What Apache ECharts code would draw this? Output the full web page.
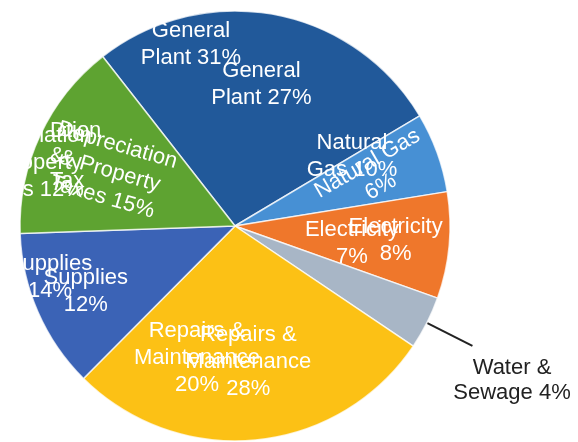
<!DOCTYPE html>
<html>
<head>
<meta charset="utf-8">
<script src="https://cdn.jsdelivr.net/npm/echarts@6/dist/echarts.min.js"></script>
<style>
  html, body { margin: 0; padding: 0; background: #fff; }
  #chart { width: 578px; height: 442px; }
</style>
</head>
<body>
<div id="chart"></div>
<script>
// slices of the pie (clockwise from the upper-left edge)
const categories = ['General Plant', 'Natural Gas', 'Electricity', 'Water & Sewage', 'Repairs & Maintenance', 'Supplies', 'Depreciation & Property Taxes']
const shares = [27, 6, 8, 4, 28, 12, 15]
const sliceLabels = ['General\nPlant', 'Natural Gas\n', 'Electricity\n', 'Water &\nSewage', 'Repairs &\nMaintenance\n', 'Supplies\n', 'Depreciation\n& Property\nTaxes']
const colors = ['#21599a', '#4790d4', '#ef772b', '#a8b6c6', '#fcc115', '#3b63b6', '#5ea331']

// second set of labels laid over the pie
const overlayLabels = ['General\nPlant', 'Natural\nGas', 'Electricity\n', 'Repairs &\nMaintenance\n', 'Supplies\n', 'Depreciation\n& Property\nTaxes']
const overlayShares = [31, 10, 7, 20, 14, 12]

const withPct = (t, v) => (t.endsWith('\n') ? t : t + ' ') + v + '%'

const FONT = '"Liberation Sans", Arial, sans-serif'
const center = [235, 226]
const startAngle = 128
// how far out each inside label sits, relative to the label ring
const labelPull = [0.97, 1.0, 1.09, 1, 0.92, 1.1, 0.92]

const chart = echarts.init(document.getElementById('chart'))

const textEl = (text, x, y, fill, align, vAlign, lh) => ({
  type: 'text',
  z: 100,
  silent: true,
  style: {
    text, x, y, fill,
    font: '22px ' + FONT,
    lineHeight: lh,
    align: align,
    verticalAlign: vAlign,
  },
})

const overlayPos = [[191, 44], [352, 156], [352, 243], [197, 358], [50, 277], [30, 163]]
const graphics = overlayLabels.map((t, i) =>
  textEl(withPct(t, overlayShares[i]), overlayPos[i][0], overlayPos[i][1], '#fff', 'center', 'middle', 27))
graphics.push(textEl('Dtion\n&\nTax', 50, 118, '#fff', 'left', 'top', 25))
// outside label of the small grey slice
graphics.push(textEl(withPct(sliceLabels[3], shares[3]), 512, 380, '#222', 'center', 'middle', 25))

chart.setOption({
  backgroundColor: '#fff',
  animation: false,
  graphic: graphics,
  series: [
    {
      // the slices
      type: 'pie',
      center: center,
      radius: 215,
      startAngle: startAngle,
      clockwise: true,
      silent: true,
      avoidLabelOverlap: false,
      itemStyle: { borderColor: 'rgba(255,255,255,0.75)', borderWidth: 1.5 },
      label: { show: false },
      labelLine: { show: false },
      data: categories.map((c, i) => ({
        name: c,
        value: shares[i],
        itemStyle: { color: colors[i] },
        label: i === 3 ? { show: true, position: 'outside', formatter: ' ', fontSize: 12 } : { show: false },
        labelLine: i === 3 ? { show: true, length: 51, length2: 0, lineStyle: { color: '#222', width: 2 } } : { show: false },
      })),
    },
    {
      // labels of the slices
      type: 'pie',
      center: center,
      radius: [0, 290],
      startAngle: startAngle,
      clockwise: true,
      silent: true,
      avoidLabelOverlap: false,
      itemStyle: { color: 'rgba(0,0,0,0)' },
      labelLine: { show: false },
      label: {
        show: true,
        position: 'inside',
        color: '#fff',
        fontFamily: FONT,
        fontSize: 22,
        lineHeight: 27,
        align: 'center',
        overflow: 'none',
      },
      labelLayout: p => {
        const r = p.labelRect
        const k = labelPull[p.dataIndex] - 1
        return {
          dx: (r.x + r.width / 2 - center[0]) * k,
          dy: (r.y + r.height / 2 - center[1]) * k,
        }
      },
      data: categories.map((c, i) => ({
        name: c,
        value: shares[i],
        label: i === 3 ? { show: false } : {
          formatter: withPct(sliceLabels[i], shares[i]),
          rotate: i === 1 ? 30 : i === 6 ? -16 : 0,
        },
      })),
    },
  ],
})
</script>
</body>
</html>
